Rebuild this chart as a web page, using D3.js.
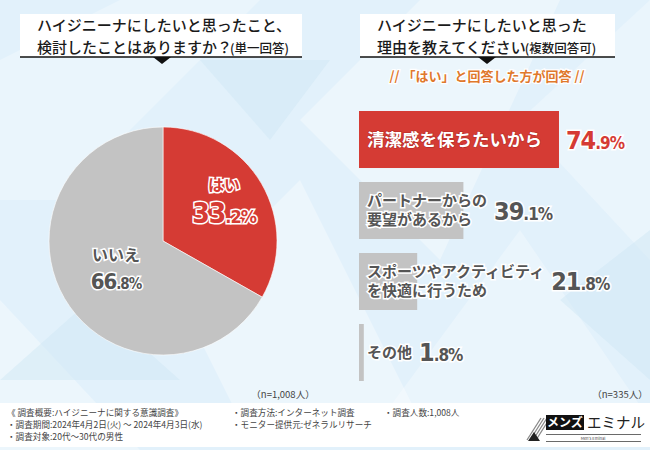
<!DOCTYPE html>
<html><head><meta charset="utf-8">
<script src="https://cdn.jsdelivr.net/npm/d3@7"></script>
<style>
body{margin:0;background:#fff;}
svg{display:block;font-family:"Noto Sans CJK JP","Noto Sans",sans-serif;}
</style></head>
<body>
<svg id="c" width="650" height="450"></svg>
<script>
// ---- data ----
const pieCategories = ["はい", "いいえ"];
const pieValues = [33.2, 66.8];
const barCategories = ["清潔感を保ちたいから", "パートナーからの\n要望があるから", "スポーツやアクティビティ\nを快適に行うため", "その他"];
const barValues = [74.9, 39.1, 21.8, 1.8];
const leftTitle = ["ハイジニーナにしたいと思ったこと、", "検討したことはありますか？", "(単一回答)"];
const rightTitle = ["ハイジニーナにしたいと思った", "理由を教えてください", "(複数回答可)"];
const subNote = "// 「はい」と回答した方が回答  //";
const leftN = "（n=1,008人）";
const rightN = "（n=335人）";
const footerCol1 = ["《 調査概要:ハイジニーナに関する意識調査》", "・調査期間:2024年4月2日(火) ～ 2024年4月3日(水)", "・調査対象:20代～30代の男性"];
const footerCol2 = ["・調査方法:インターネット調査", "・モニター提供元:ゼネラルリサーチ"];
const footerCol3 = ["・調査人数:1,008人"];

const svg = d3.select("#c");
const W = 650, H = 450;

// ---- background ----
svg.append("rect").attr("width", W).attr("height", H).attr("fill", "#e2f1fb");
const bgPolys = [
  [[0,60],[120,0],[260,0],[60,200],[0,200]],
  [[300,120],[420,0],[560,0],[440,260]],
  [[520,120],[650,0],[650,260]],
  [[0,300],[140,450],[0,450]],
  [[380,420],[520,230],[650,420]],
  [[180,300],[300,180],[420,420],[240,420]]
];
svg.append("g").selectAll("polygon").data(bgPolys).join("polygon")
  .attr("points", d => d.map(p => p.join(",")).join(" "))
  .attr("fill", "#ffffff").attr("opacity", (d,i) => i % 2 ? 0.35 : 0.28);
const bgDark = [
  [[200,60],[330,60],[270,140]],
  [[0,380],[90,300],[180,380]],
  [[560,300],[650,230],[650,380]]
];
svg.append("g").selectAll("polygon").data(bgDark).join("polygon")
  .attr("points", d => d.map(p => p.join(",")).join(" "))
  .attr("fill", "#cfe6f5").attr("opacity", 0.45);

// ---- title boxes ----
function titleBox(x0, x1, triX) {
  const g = svg.append("g");
  g.append("rect").attr("x", x0).attr("y", 14).attr("width", x1 - x0).attr("height", 43).attr("fill", "#fff");
  g.append("line").attr("x1", x0).attr("x2", x1).attr("y1", 57).attr("y2", 57).attr("stroke", "#111").attr("stroke-width", 1.5);
  g.append("path").attr("d", `M${triX-9},57 L${triX+9},57 L${triX},64 Z`).attr("fill", "#111");
  return g;
}
const lt = titleBox(20, 302, 162);
lt.append("text").attr("x", 37).attr("y", 31).attr("font-size", 15).attr("font-weight", 500).attr("fill", "#1a1a1a").text(leftTitle[0]);
const lt2 = lt.append("text").attr("x", 37).attr("y", 53).attr("font-size", 15).attr("font-weight", 500).attr("fill", "#1a1a1a");
lt2.append("tspan").text(leftTitle[1]);
lt2.append("tspan").attr("font-size", 12.5).attr("dx", -2).text(leftTitle[2]);

const rt = titleBox(360, 615, 487);
rt.append("text").attr("x", 377).attr("y", 31).attr("font-size", 15).attr("font-weight", 500).attr("fill", "#1a1a1a").text(rightTitle[0]);
const rt2 = rt.append("text").attr("x", 377).attr("y", 53).attr("font-size", 15).attr("font-weight", 500).attr("fill", "#1a1a1a");
rt2.append("tspan").text(rightTitle[1]);
rt2.append("tspan").attr("font-size", 12.5).attr("dx", -1).text(rightTitle[2]);

svg.append("text").attr("x", 487).attr("y", 81).attr("text-anchor", "middle")
  .attr("font-size", 13).attr("font-weight", 700).attr("fill", "#e0782c")
  .attr("stroke", "#fff").attr("stroke-width", 2.5).attr("paint-order", "stroke")
  .text(subNote);

// ---- pie ----
const cx = 163, cy = 241, R = 114;
const pieColors = d3.scaleOrdinal().domain(pieCategories).range(["#d53b34", "#c3c3c3"]);
const arcs = d3.pie().sort(null).value(d => d)(pieValues);
const arcGen = d3.arc().innerRadius(0).outerRadius(R);
const pg = svg.append("g").attr("transform", `translate(${cx},${cy})`);
pg.selectAll("path").data(arcs).join("path")
  .attr("d", arcGen).attr("fill", (d,i) => pieColors(pieCategories[i]))
  .attr("stroke", "#fff").attr("stroke-width", 0.6);

const labelArc = d3.arc().innerRadius(R * 0.62).outerRadius(R * 0.62);
arcs.forEach((a, i) => {
  const [lx, ly] = labelArc.centroid(a);
  const isYes = i === 0;
  const fill = isYes ? "#d53b34" : "#555";
  const g = pg.append("g").attr("transform", `translate(${lx + (isYes ? 0 : 14)},${ly + (isYes ? -6 : -8)})`);
  g.append("text").attr("y", -8).attr("text-anchor", "middle")
    .attr("font-size", 16).attr("font-weight", 700).attr("fill", fill)
    .attr("stroke", "#fff").attr("stroke-width", 3).attr("paint-order", "stroke")
    .text(pieCategories[i]);
  const s = pieValues[i].toFixed(1).split(".");
  const t = g.append("text").attr("y", isYes ? 24 : 20).attr("text-anchor", "middle")
    .attr("font-family", "'DejaVu Sans Condensed','Roboto',sans-serif").attr("font-weight", 700).attr("fill", fill)
    .attr("stroke", "#fff").attr("stroke-width", 3).attr("paint-order", "stroke").attr("letter-spacing", -1);
  t.append("tspan").attr("font-size", isYes ? 28 : 22).text(s[0]);
  t.append("tspan").attr("font-size", isYes ? 18 : 15).text("." + s[1] + "%");
});

svg.append("text").attr("x", 283).attr("y", 398).attr("text-anchor", "middle")
  .attr("font-size", 9.5).attr("fill", "#444").text(leftN);

// ---- bars ----
const x = d3.scaleLinear().domain([0, 100]).range([359, 359 + 267]);
const y = d3.scaleBand().domain(barCategories).range([111, 381]).paddingInner(0.197);
const bg = svg.append("g");
barCategories.forEach((c, i) => {
  const first = i === 0;
  const y0 = y(c), bh = y.bandwidth();
  bg.append("rect").attr("x", x(0)).attr("y", y0).attr("width", x(barValues[i]) - x(0)).attr("height", bh)
    .attr("fill", first ? "#d53b34" : "#c3c3c3");
  const lines = c.split("\n");
  const fs = first ? 17.5 : 15;
  const lh = 19;
  const ymid = y0 + bh / 2;
  const lab = bg.append("text").attr("font-size", fs).attr("font-weight", 700)
    .attr("fill", first ? "#fff" : "#555")
    .attr("stroke", first ? "#b52a25" : "#fff").attr("stroke-width", first ? 1.2 : 3).attr("paint-order", "stroke");
  lines.forEach((l, j) => {
    lab.append("tspan").attr("x", 367).attr("y", ymid + (j - (lines.length - 1) / 2) * lh + fs * 0.36).text(l);
  });
  let maxW = 0;
  lab.selectAll("tspan").each(function() { maxW = Math.max(maxW, this.getComputedTextLength()); });
  const vx = Math.max(x(barValues[i]), 367 + maxW) + 7;
  const s = barValues[i].toFixed(1).split(".");
  const vt = bg.append("text").attr("x", vx).attr("y", ymid + 9)
    .attr("font-family", "'DejaVu Sans Condensed','Roboto',sans-serif").attr("font-weight", 700)
    .attr("fill", first ? "#d53b34" : "#555").attr("letter-spacing", -1)
    .attr("stroke", "#fff").attr("stroke-width", 3).attr("paint-order", "stroke");
  vt.append("tspan").attr("font-size", 25).text(s[0]);
  vt.append("tspan").attr("font-size", 17).text("." + s[1] + "%");
});

svg.append("text").attr("x", 620).attr("y", 398).attr("text-anchor", "middle")
  .attr("font-size", 9.5).attr("fill", "#444").text(rightN);

// ---- footer ----
svg.append("rect").attr("x", 0).attr("y", 403).attr("width", W).attr("height", 44).attr("fill", "#fff");
function col(lines, x0) {
  lines.forEach((l, i) => {
    svg.append("text").attr("x", x0).attr("y", 415.5 + i * 12).attr("font-size", 8.6).attr("fill", "#444").text(l);
  });
}
col(footerCol1, 7);
col(footerCol2, 232);
col(footerCol3, 384);

// logo
const lg = svg.append("g");
[0,1,2,3].forEach(k => {
  lg.append("line").attr("x1", 527 + k * 3).attr("y1", 440).attr("x2", 541 + k * 3).attr("y2", 418)
    .attr("stroke", "#888").attr("stroke-width", 1.3);
});
lg.append("path").attr("d", "M528,441 L534,432 L540,441 Z").attr("fill", "#222");
lg.append("rect").attr("x", 546).attr("y", 415).attr("width", 38).attr("height", 15).attr("fill", "#111");
lg.append("text").attr("x", 565).attr("y", 427).attr("text-anchor", "middle").attr("font-size", 12).attr("font-weight", 700).attr("fill", "#fff").text("メンズ");
lg.append("text").attr("x", 587).attr("y", 428).attr("font-size", 14.5).attr("fill", "#222").text("エミナル");
lg.append("line").attr("x1", 546).attr("x2", 641).attr("y1", 434.5).attr("y2", 434.5).attr("stroke", "#444").attr("stroke-width", 0.8);
lg.append("line").attr("x1", 546).attr("x2", 641).attr("y1", 441.5).attr("y2", 441.5).attr("stroke", "#444").attr("stroke-width", 0.8);
lg.append("text").attr("x", 593).attr("y", 440).attr("text-anchor", "middle").attr("font-size", 4).attr("fill", "#444").text("Men's Eminal");
</script>
</body></html>
